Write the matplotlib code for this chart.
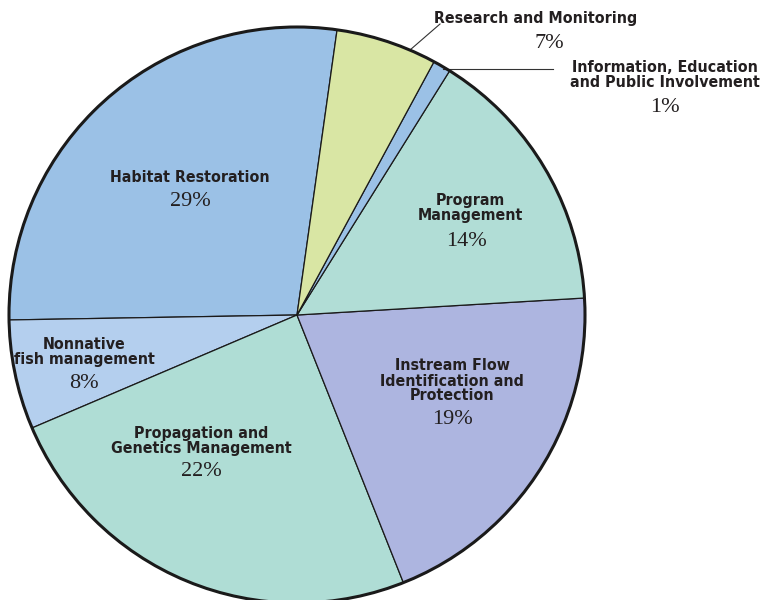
import matplotlib.pyplot as plt
from matplotlib.patches import Circle

# Slice sizes (as drawn, degrees of arc converted to share) and printed labels
categories = ['Habitat Restoration', 'Nonnative\nfish management',
              'Propagation and\nGenetics Management',
              'Instream Flow\nIdentification and\nProtection',
              'Program\nManagement',
              'Information, Education\nand Public Involvement',
              'Research and Monitoring']
shares = [27.5, 6.14, 24.61, 19.92, 15.17, 1.0, 5.67]
pct_labels = ['29%', '8%', '22%', '19%', '14%', '1%', '7%']
colors = ['#9bc1e6', '#b4cfee', '#afddd5', '#adb5e0', '#b1ddd6', '#9bc1e6', '#d9e6a4']

W, H = 763, 600
cx, cy, R = 297, 315, 288

fig = plt.figure(figsize=(W / 100, H / 100), dpi=100)
ax = fig.add_axes([0, 0, 1, 1])

ax.pie(shares, colors=colors, startangle=82, counterclock=True, radius=1.0,
       wedgeprops=dict(edgecolor='#1a1a1a', linewidth=0.9))
ax.add_patch(Circle((0, 0), 1.0, fill=False, edgecolor='#1a1a1a', linewidth=2.2, zorder=5))

# pie() resets the view, so fix limits afterwards
ax.set_aspect('auto')
ax.set_xlim(-cx / R, (W - cx) / R)
ax.set_ylim(-(H - cy) / R, cy / R)
ax.axis('off')


def px(x, y):
    # picture pixel -> data coords
    return (x - cx) / R, (cy - y) / R


name_kw = dict(family='DejaVu Sans', stretch='condensed', weight='bold', fontsize=11.4,
               color='#231f20', ha='center', va='center', linespacing=1.0)
pct_kw = dict(family='Liberation Serif', fontsize=16, color='#231f20', ha='center', va='center')

# (label centre, percent centre) in picture pixels
positions = [((190, 178), (190, 201)),
             ((84, 352), (84, 383)),
             ((201, 441), (201, 472)),
             ((452, 381), (452, 420)),
             ((470, 208), (466, 241)),
             ((665, 75), (665, 107)),
             ((536, 18), (549, 44))]

for name, pct, (lp, pp) in zip(categories, pct_labels, positions):
    ax.text(*px(*lp), name, **name_kw)
    ax.text(*px(*pp), pct, **pct_kw)

# leader lines for the two thin slices
x0, y0 = px(410, 50)
x1, y1 = px(440, 24)
ax.plot([x0, x1], [y0, y1], color='#333333', linewidth=0.8)
x0, y0 = px(443, 69)
x1, y1 = px(553, 69)
ax.plot([x0, x1], [y0, y1], color='#333333', linewidth=0.8)

fig.savefig('out.png', dpi=100)
